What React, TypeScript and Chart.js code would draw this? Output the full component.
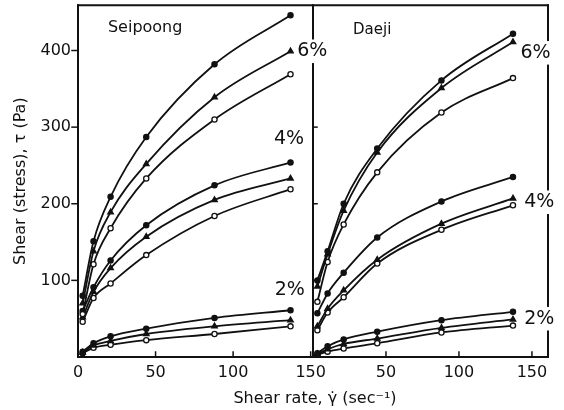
import React, { useEffect, useRef } from 'react';
import { Chart, registerables } from 'chart.js';

Chart.register(...registerables);

// Shear rates (sec^-1) at which stress was measured
const SHEAR_RATE = [3, 10, 21, 44, 88, 137];

// Seipoong panel (Pa)
const SEIPOONG_6_A = [80, 151, 209, 287, 382, 446];
const SEIPOONG_6_B = [70, 138, 189, 252, 339, 399];
const SEIPOONG_6_C = [56, 121, 168, 233, 310, 369];
const SEIPOONG_4_A = [60, 91, 126, 172, 224, 254];
const SEIPOONG_4_B = [52, 85, 116, 157, 205, 233];
const SEIPOONG_4_C = [46, 77, 96, 133, 184, 219];
const SEIPOONG_2_A = [7, 18, 27, 37, 51, 61];
const SEIPOONG_2_B = [6, 15, 21, 30, 40, 48];
const SEIPOONG_2_C = [5, 12, 16, 22, 30, 40];

// Daeji panel (Pa)
const DAEJI_6_A = [100, 138, 200, 272, 361, 422];
const DAEJI_6_B = [92, 134, 191, 267, 351, 411];
const DAEJI_6_C = [72, 124, 173, 241, 319, 364];
const DAEJI_4_A = [57, 83, 110, 156, 203, 235];
const DAEJI_4_B = [40, 63, 87, 127, 174, 207];
const DAEJI_4_C = [35, 58, 78, 122, 166, 198];
const DAEJI_2_A = [5, 14, 23, 33, 48, 59];
const DAEJI_2_B = [4, 10, 17, 24, 38, 49];
const DAEJI_2_C = [3, 7, 11, 18, 32, 41];

const X_TICKS = [0, 50, 100, 150];
const Y_TICKS = [0, 100, 200, 300, 400];
const PANEL_TITLES = ['Seipoong', 'Daeji'];
const CONC_LABELS = ['6%', '4%', '2%'];
const X_TITLE = 'Shear rate, γ̇ (sec⁻¹)';
const Y_TITLE = 'Shear (stress), τ (Pa)';

const FONT = "'DejaVu Sans', sans-serif";
const INK = '#111';

type MarkStyle = 'dot' | 'tri' | 'open';

function series(values: number[], axis: 'x1' | 'x2', style: MarkStyle) {
  return {
    data: SHEAR_RATE.map((x, i) => ({ x, y: values[i] })),
    xAxisID: axis,
    yAxisID: 'y',
    borderColor: INK,
    borderWidth: 1.8,
    cubicInterpolationMode: 'monotone' as const,
    pointStyle: style === 'tri' ? 'triangle' : 'circle',
    pointRadius: style === 'tri' ? 3.2 : 2.6,
    pointBackgroundColor: style === 'open' ? '#fff' : INK,
    pointBorderColor: INK,
    pointBorderWidth: 1.3,
    fill: false,
  };
}

const overlayPlugin = {
  id: 'overlay',
  afterDraw(chart: any) {
    const { ctx, chartArea } = chart;
    const { left, right, top, bottom } = chartArea;
    const x1 = chart.scales.x1;
    const x2 = chart.scales.x2;
    const y = chart.scales.y;
    const mid = x2.left;
    ctx.save();
    ctx.strokeStyle = INK;
    ctx.lineCap = 'square';
    const seg = (a: number, b: number, c: number, d: number) => {
      ctx.beginPath();
      ctx.moveTo(a, b);
      ctx.lineTo(c, d);
      ctx.stroke();
    };
    ctx.lineWidth = 2;
    seg(left, top, right, top);
    seg(left, top, left, bottom);
    seg(right, top, right, bottom);
    seg(left, bottom, right, bottom);
    seg(mid, top, mid, bottom);

    ctx.lineWidth = 1.5;
    Y_TICKS.slice(1).forEach((v) => {
      const py = y.getPixelForValue(v);
      seg(left - 6, py, left, py);
      seg(mid, py, mid + 4, py);
    });
    [x1, x2].forEach((s: any) =>
      X_TICKS.slice(1).forEach((v) => {
        const px = s.getPixelForValue(v);
        seg(px, bottom, px, bottom - 5);
      })
    );

    const label = (text: string, px: number, py: number, size: number, align: 'center' | 'left', bg: boolean) => {
      ctx.font = `${size}px ${FONT}`;
      ctx.textBaseline = 'middle';
      ctx.textAlign = align;
      const w = ctx.measureText(text).width;
      if (bg) {
        const x0 = align === 'center' ? px - w / 2 : px;
        ctx.fillStyle = '#fff';
        ctx.fillRect(x0 - 3, py - size * 0.62, w + 6, size * 1.24);
      }
      ctx.fillStyle = INK;
      ctx.fillText(text, px, py);
    };

    // panel titles
    label(PANEL_TITLES[0], x1.getPixelForValue(19.3), y.getPixelForValue(430), 16, 'left', false);
    label(PANEL_TITLES[1], x2.getPixelForValue(27.4), y.getPixelForValue(427), 15, 'left', false);

    // concentration labels
    label(CONC_LABELS[0], x1.getPixelForValue(151), y.getPixelForValue(399), 19, 'center', true);
    label(CONC_LABELS[1], x1.getPixelForValue(136), y.getPixelForValue(284), 19, 'center', true);
    label(CONC_LABELS[2], x1.getPixelForValue(136.5), y.getPixelForValue(87), 19, 'center', true);
    label(CONC_LABELS[0], x2.getPixelForValue(152.5), y.getPixelForValue(397), 19, 'center', true);
    label(CONC_LABELS[1], x2.getPixelForValue(155), y.getPixelForValue(202), 19, 'center', true);
    label(CONC_LABELS[2], x2.getPixelForValue(155), y.getPixelForValue(50), 19, 'center', true);

    // axis titles
    ctx.font = `16px ${FONT}`;
    ctx.fillStyle = INK;
    ctx.textAlign = 'center';
    ctx.textBaseline = 'middle';
    ctx.fillText(X_TITLE, (left + right) / 2 + 2, 399);
    ctx.translate(21, (top + bottom) / 2);
    ctx.rotate(-Math.PI / 2);
    ctx.fillText(Y_TITLE, 0, 0);
    ctx.restore();
  },
};

const tickFont = { family: FONT, size: 16 };

function zeroPadding(s: any) {
  s.paddingTop = 0;
  s.paddingBottom = 0;
  s.paddingLeft = 0;
  s.paddingRight = 0;
}

function xScale(max: number, showZero: boolean) {
  return {
    type: 'linear',
    position: 'bottom',
    stack: 'shear',
    stackWeight: 1,
    min: 0,
    max,
    grid: { display: false, drawTicks: false },
    border: { display: false },
    afterBuildTicks(s: any) {
      s.ticks = X_TICKS.map((value) => ({ value }));
    },
    ticks: {
      padding: 6,
      color: INK,
      font: tickFont,
      maxRotation: 0,
      autoSkip: false,
      callback: (v: any) => (v === 0 && !showZero ? '' : String(v)),
    },
    afterFit(s: any) {
      s.height = 53;
      zeroPadding(s);
    },
  };
}

export default function App() {
  const ref = useRef<HTMLCanvasElement | null>(null);

  useEffect(() => {
    if (!ref.current) return;
    const chart = new Chart(ref.current, {
      type: 'line',
      data: {
        datasets: [
          series(SEIPOONG_6_A, 'x1', 'dot'),
          series(SEIPOONG_6_B, 'x1', 'tri'),
          series(SEIPOONG_6_C, 'x1', 'open'),
          series(SEIPOONG_4_A, 'x1', 'dot'),
          series(SEIPOONG_4_B, 'x1', 'tri'),
          series(SEIPOONG_4_C, 'x1', 'open'),
          series(SEIPOONG_2_A, 'x1', 'dot'),
          series(SEIPOONG_2_B, 'x1', 'tri'),
          series(SEIPOONG_2_C, 'x1', 'open'),
          series(DAEJI_6_A, 'x2', 'dot'),
          series(DAEJI_6_B, 'x2', 'tri'),
          series(DAEJI_6_C, 'x2', 'open'),
          series(DAEJI_4_A, 'x2', 'dot'),
          series(DAEJI_4_B, 'x2', 'tri'),
          series(DAEJI_4_C, 'x2', 'open'),
          series(DAEJI_2_A, 'x2', 'dot'),
          series(DAEJI_2_B, 'x2', 'tri'),
          series(DAEJI_2_C, 'x2', 'open'),
        ] as any,
      },
      options: {
        animation: false,
        responsive: false,
        devicePixelRatio: 1,
        layout: { padding: { left: 0, right: 16, top: 5, bottom: 0 } },
        plugins: { legend: { display: false }, tooltip: { enabled: false } },
        scales: {
          x1: xScale(151.5, true),
          x2: xScale(161, false),
          y: {
            type: 'linear',
            position: 'left',
            min: 0,
            max: 459,
            grid: { display: false, drawTicks: false },
            border: { display: false },
            afterBuildTicks(s: any) {
              s.ticks = Y_TICKS.map((value) => ({ value }));
            },
            ticks: {
              padding: 7,
              color: INK,
              font: tickFont,
              callback: (v: any) => (v === 0 ? '' : String(v)),
            },
            afterFit(s: any) {
              s.width = 78;
              zeroPadding(s);
            },
          },
        } as any,
      },
      plugins: [overlayPlugin],
    });
    return () => chart.destroy();
  }, []);

  return (
    <div style={{ position: 'fixed', left: 0, top: 0, width: 564, height: 410, background: '#fff' }}>
      <canvas ref={ref} width={564} height={410} style={{ width: 564, height: 410, display: 'block' }} />
    </div>
  );
}
